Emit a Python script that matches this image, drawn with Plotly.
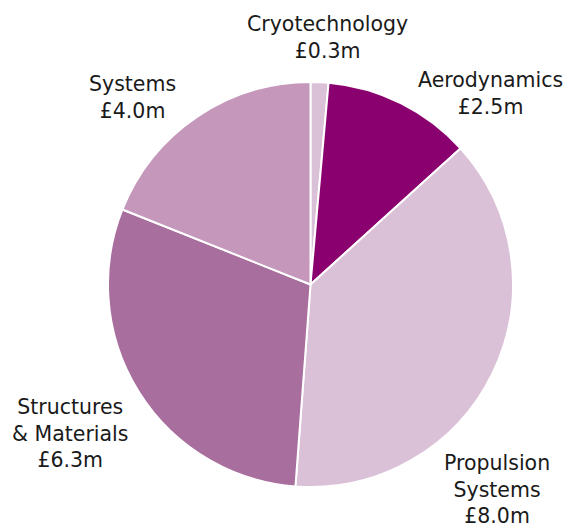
import plotly.graph_objects as go

categories = ["Cryotechnology", "Aerodynamics", "Propulsion Systems", "Structures & Materials", "Systems"]
values = [0.3, 2.5, 8.0, 6.3, 4.0]
label_text = ["Cryotechnology<br>£0.3m", "Aerodynamics<br>£2.5m", "Propulsion<br>Systems<br>£8.0m",
              "Structures<br>& Materials<br>£6.3m", "Systems<br>£4.0m"]
colors = ["#dbc1d8", "#8b006f", "#dbc1d8", "#a86e9e", "#c497bb"]

# label anchor positions (paper coords)
label_pos = [(0.5756, 0.930), (0.8625, 0.824), (0.8735, 0.074), (0.123, 0.1796), (0.2337, 0.8166)]

W, H = 569, 529
cx, cy, r = 310.5, 284.5, 202.5

fig = go.Figure(go.Pie(
    labels=categories,
    values=values,
    sort=False,
    direction="clockwise",
    rotation=0,
    marker=dict(colors=colors, line=dict(color="white", width=2)),
    textinfo="none",
    hoverinfo="label+value",
    domain=dict(x=[(cx - r) / W, (cx + r) / W], y=[(H - cy - r) / H, (H - cy + r) / H]),
    showlegend=False,
))

for txt, (x, y) in zip(label_text, label_pos):
    fig.add_annotation(text=txt, x=x, y=y, xref="paper", yref="paper",
                       xanchor="center", yanchor="middle", showarrow=False,
                       font=dict(family="DejaVu Sans, sans-serif", size=20.5, color="#1a1a1a"))

fig.update_layout(
    width=W, height=H,
    margin=dict(l=0, r=0, t=0, b=0),
    paper_bgcolor="white",
    plot_bgcolor="white",
)

fig.write_html("out.html")
